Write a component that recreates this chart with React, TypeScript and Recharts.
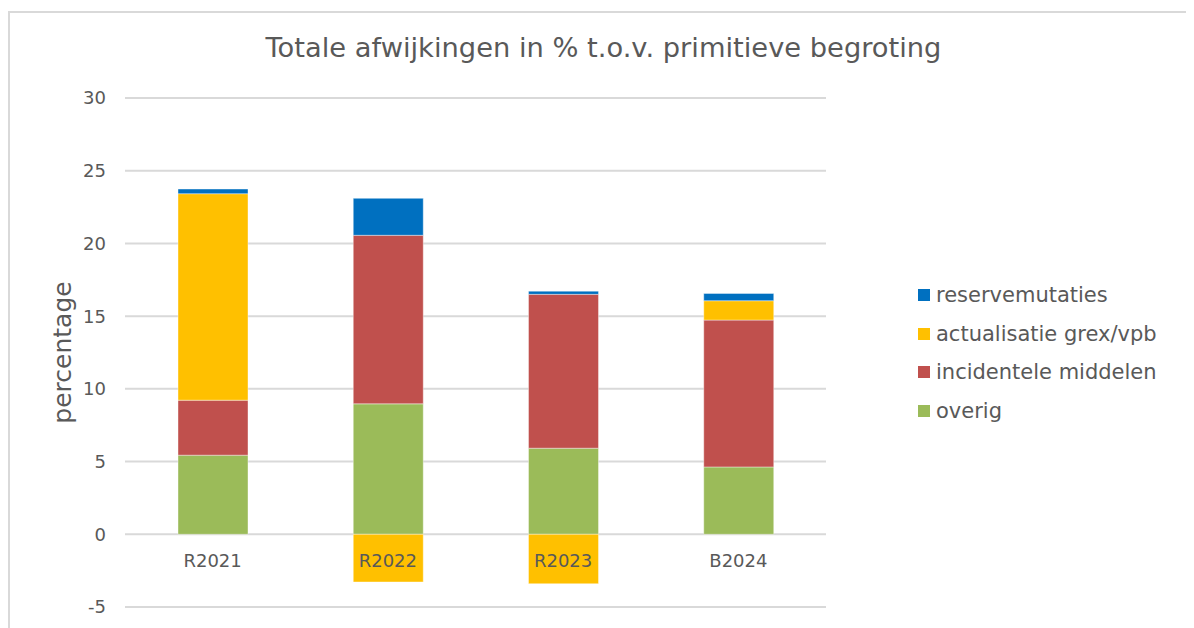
import { Bar, BarChart, CartesianGrid, XAxis, YAxis } from "recharts";

const categories = ["R2021", "R2022", "R2023", "B2024"];
const overig = [5.44, 8.97, 5.92, 4.63];
const incidenteleMiddelen = [3.78, 11.59, 10.58, 10.1];
const actualisatie = [14.2, -3.28, -3.4, 1.33];
const reservemutaties = [0.32, 2.54, 0.22, 0.5];
const yTicks = [-5, 0, 5, 10, 15, 20, 25, 30];

const series = [
  { key: "overig", name: "overig", color: "#9bbb59" },
  { key: "incidentele", name: "incidentele middelen", color: "#c0504d" },
  { key: "actualisatie", name: "actualisatie grex/vpb", color: "#ffc000" },
  { key: "reserve", name: "reservemutaties", color: "#0070c0" },
];

const data = categories.map((name, i) => ({
  name,
  overig: overig[i],
  incidentele: incidenteleMiddelen[i],
  actualisatie: actualisatie[i],
  reserve: reservemutaties[i],
}));

const font = "'DejaVu Sans', Verdana, sans-serif";
const textColor = "#595959";

const CategoryTick = ({ x, y, payload }: any) => (
  <text
    x={x}
    y={y}
    dy={-47}
    textAnchor="middle"
    dominantBaseline="central"
    fill={textColor}
    fontSize={18}
    fontFamily={font}
  >
    {payload.value}
  </text>
);

const LegendList = () => (
  <div
    style={{
      position: "absolute",
      left: 910,
      top: 268,
      fontFamily: font,
      fontSize: 21,
      color: textColor,
    }}
  >
    {[...series].reverse().map((s) => (
      <div
        key={s.key}
        style={{ display: "flex", alignItems: "center", height: 38.5 }}
      >
        <span
          style={{
            display: "inline-block",
            width: 12,
            height: 12,
            background: s.color,
            marginRight: 6,
          }}
        />
        <span>{s.name}</span>
      </div>
    ))}
  </div>
);

const App = () => {
  return (
    <div
      style={{
        position: "relative",
        width: 1186,
        height: 620,
        fontFamily: font,
        overflow: "hidden",
      }}
    >
      <div
        style={{
          position: "absolute",
          left: 0,
          top: 3,
          right: 0,
          bottom: 0,
          borderTop: "2px solid #d9d9d9",
          borderLeft: "2px solid #d9d9d9",
        }}
      />
      <div
        style={{
          position: "absolute",
          left: 5,
          right: 0,
          top: 26,
          textAlign: "center",
          fontSize: 27.3,
          lineHeight: 1,
          color: textColor,
        }}
      >
        Totale afwijkingen in % t.o.v. primitieve begroting
      </div>
      <BarChart
        width={1186}
        height={620}
        data={data}
        stackOffset="sign"
        margin={{ top: 90, right: 368, bottom: 20, left: 0 }}
      >
        <CartesianGrid
          vertical={false}
          stroke="#d9d9d9"
          strokeWidth={2}
        />
        <YAxis
          width={117}
          domain={[-5, 30]}
          ticks={yTicks}
          axisLine={false}
          tickLine={false}
          tickMargin={13}
          tick={{ fill: textColor, fontSize: 18, fontFamily: font }}
          label={{
            content: ({ viewBox }: any) => (
              <text
                x={54}
                y={viewBox.y + viewBox.height / 2}
                transform={`rotate(-90 54 ${viewBox.y + viewBox.height / 2})`}
                textAnchor="middle"
                dominantBaseline="central"
                fill={textColor}
                fontSize={25}
                fontFamily={font}
              >
                percentage
              </text>
            ),
          }}
        />
        {series.map((s) => (
          <Bar
            key={s.key}
            dataKey={s.key}
            name={s.name}
            stackId="a"
            fill={s.color}
            barSize={70}
            stroke="#ffffff"
            strokeOpacity={0.4}
            strokeWidth={1}
            isAnimationActive={false}
          />
        ))}
        <XAxis
          dataKey="name"
          height={1}
          axisLine={false}
          tickLine={false}
          tickSize={0}
          tickMargin={0}
          interval={0}
          tick={<CategoryTick />}
        />
      </BarChart>
      <LegendList />
    </div>
  );
};

export default App;
